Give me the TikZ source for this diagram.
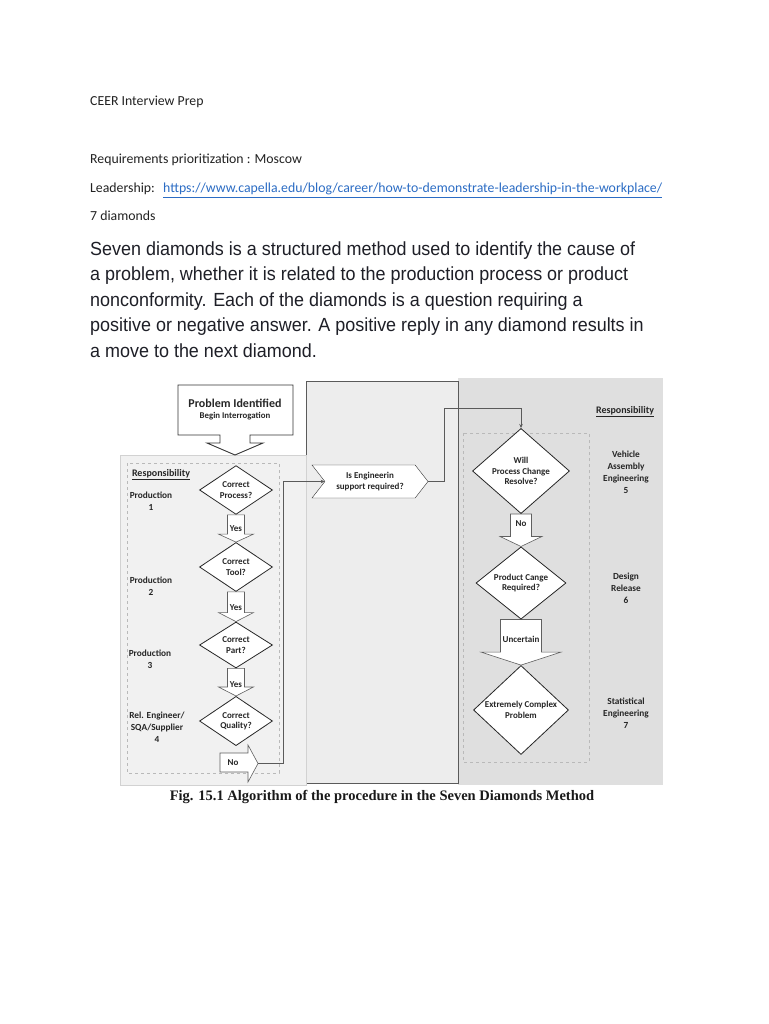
\documentclass[tikz,border=0pt]{standalone}
\usepackage{fontspec}
\setmainfont{Carlito}
\newfontfamily\parafont[FakeStretch=0.945]{Liberation Sans}
\newfontfamily\capfont{Liberation Serif}
\usetikzlibrary{arrows.meta,positioning,calc,shapes.geometric,shapes.symbols}

\definecolor{inktext}{HTML}{222222}
\definecolor{linkblue}{HTML}{2B6CC4}
\definecolor{paraink}{HTML}{1E1F27}
\definecolor{panelleft}{HTML}{F1F1F1}
\definecolor{panelmid}{HTML}{EDEDED}
\definecolor{panelright}{HTML}{DFDFDF}
\definecolor{edgegray}{HTML}{5A5A5A}

\pgfdeclarelayer{panels}
\pgfdeclarelayer{arrows}
\pgfsetlayers{panels,arrows,main}

% block arrow between two diamonds: top, bottom, neck half, wing half, head length, label pos, label
\newcommand\blockdown[7]{%
  \begin{pgfonlayer}{arrows}
  \draw[blk] ($(#1.south)+(-#3,0)$) -- ($(#2.north)+(-#3,-#5)$) -- ($(#2.north)+(-#4,-#5)$)
    -- (#2.north) -- ($(#2.north)+(#4,-#5)$) -- ($(#2.north)+(#3,-#5)$) -- ($(#1.south)+(#3,0)$) -- cycle;
  \end{pgfonlayer}
  \node[lbl] (#1-lbl) at ($(#1.south)!#6!(#2.north)$) {#7};}

\begin{document}
\begin{tikzpicture}[x=1pt, y=-1pt,
  hdr/.style={font=\fontsize{13.8}{16}\selectfont, text=inktext, inner sep=0pt, anchor=base west},
  para/.style={font=\parafont\fontsize{19}{23}\selectfont, text=paraink, inner sep=0pt, anchor=base west},
  dia/.style={diamond, draw=black!85, fill=white, line width=0.8pt, inner sep=0pt, align=center,
    font=\fontsize{9}{10.5}\selectfont\bfseries, text=black!85},
  blk/.style={draw=gray!75!black, fill=white, line width=0.6pt},
  lbl/.style={font=\fontsize{9}{10}\selectfont\bfseries, text=black!85, inner sep=0pt},
  resp/.style={font=\fontsize{9.3}{12}\selectfont\bfseries, text=black!85, align=center, inner sep=0pt},
  conn/.style={draw=edgegray, line width=0.6pt},
  arr/.style={conn, -{Stealth[length=4pt, width=3.5pt]}}
]
  \begin{pgfonlayer}{panels}
  \fill[white] (0,0) rectangle (768,1024);
  \fill[panelright] (458,378) rectangle (663,785);
  \draw[edgegray, fill=panelmid] (306,381) rectangle (458,783);
  \draw[gray!35, fill=panelleft] (120,455) rectangle (306,785);
  \draw[dashed, gray!55] (127,463) rectangle (279,773);
  \draw[dashed, gray!55] (463,433) rectangle (589,762);
  \end{pgfonlayer}
  \useasboundingbox (0,0) rectangle (768,1024);

  % header lines
  \node[hdr] (title) at (90,106) {CEER Interview Prep};
  \node[hdr] (moscow) at (90,164) {Requirements prioritization : Moscow};
  \node[hdr] (lead) at (90,193) {Leadership:};
  \node[hdr, text=linkblue] (link) at (163,193)
    {\underline{https://www.capella.edu/blog/career/how-to-demonstrate-leadership-in-the-workplace/}};
  \node[hdr] (seven) at (90,221) {7 diamonds};

  % paragraph
  \foreach \txt [count=\i] in {
    {Seven diamonds is a structured method used to identify the cause of},
    {a problem, whether it is related to the production process or product},
    {nonconformity. Each of the diamonds is a question requiring a},
    {positive or negative answer. A positive reply in any diamond results in},
    {a move to the next diamond.}}
    \node[para] (p\i) at (90,{229.5+25.5*\i}) {\txt};

  % start
  \draw[blk, draw=black!80, line width=0.9pt] (178,385) -- (293,385) -- (293,435) -- (250,435) -- (250,443)
    -- (263,443) -- (235,455) -- (207,443) -- (220,443) -- (220,435) -- (178,435) -- cycle;
  \node[align=center, inner sep=0pt, text=black!85] (prob) at (235,410)
    {\fontsize{12}{14}\selectfont\bfseries Problem Identified\\[-1pt]\fontsize{8.8}{10}\selectfont\bfseries Begin Interrogation};

  % left column diamonds
  \node[dia, minimum width=73, minimum height=46] (d1) at (236,490) {Correct\\Process?};
  \node[dia, minimum width=73, minimum height=49] (d2) at (236,567) {Correct\\Tool?};
  \node[dia, minimum width=73, minimum height=46] (d3) at (236,645) {Correct\\Part?};
  \node[dia, minimum width=73, minimum height=48] (d4) at (236,721) {Correct\\Quality?};

  \blockdown{d1}{d2}{8.5}{17.5}{8}{0.5}{Yes}
  \blockdown{d2}{d3}{8.5}{17.5}{9}{0.53}{Yes}
  \blockdown{d3}{d4}{8.5}{17.5}{9}{0.58}{Yes}

  % no exit
  \draw[blk] (220,753) -- (248,753) -- (248,745) -- (258,763.5) -- (248,782) -- (248,772) -- (220,772) -- cycle;
  \coordinate (notip) at (258,763.5);
  \node[lbl] (no4) at (233,763) {No};

  % engineering support
  \node[signal, signal to=east, signal from=west, signal pointer angle=104, draw=black!80, fill=white,
    minimum width=116, minimum height=33, inner sep=0pt, align=center,
    font=\fontsize{9}{11}\selectfont\bfseries, text=black!85] (eng) at (370,481.5)
    {Is Engineerin\\support required?};
  \draw[arr] (notip) -- ++(25,0) |- (eng.west);

  % right column diamonds
  \node[dia, minimum width=97, minimum height=68] (d5) at (521,471) {Will\\Process Change\\Resolve?};
  \node[dia, minimum width=90, minimum height=70] (d6) at (521,583) {Product Cange\\Required?};
  \node[dia, minimum width=95, minimum height=70] (d7) at (521,710) {Extremely Complex\\Problem};
  \draw[arr] (eng.east) -- ++(16,0) |- ($(d5.north)+(0,-20)$) -- (d5.north);

  \blockdown{d5}{d6}{10.5}{21}{10}{0.3}{No}
  \blockdown{d6}{d7}{20.5}{40}{13}{0.44}{Uncertain}

  % responsibilities
  \node[resp, font=\fontsize{10}{12}\selectfont\bfseries] (respl) at (161,475) {\underline{Responsibility}};
  \node[resp] (r1) at (151,501) {Production\\1};
  \node[resp] (r2) at (151,586) {Production\\2};
  \node[resp] (r3) at (150,659) {Production\\3};
  \node[resp] (r4) at (157,727) {Rel. Engineer/\\SQA/Supplier\\4};
  \node[resp, font=\fontsize{10}{12}\selectfont\bfseries] (respr) at (625,412) {\underline{Responsibility}};
  \node[resp] (r5) at (626,472) {Vehicle\\Assembly\\Engineering\\5};
  \node[resp] (r6) at (626,588) {Design\\Release\\6};
  \node[resp] (r7) at (626,713) {Statistical\\Engineering\\7};

  % caption
  \node[inner sep=0pt, font=\capfont\bfseries\fontsize{14.5}{16}\selectfont, text=black!90] (cap) at (382,797)
    {Fig. 15.1 Algorithm of the procedure in the Seven Diamonds Method};
\end{tikzpicture}
\end{document}
